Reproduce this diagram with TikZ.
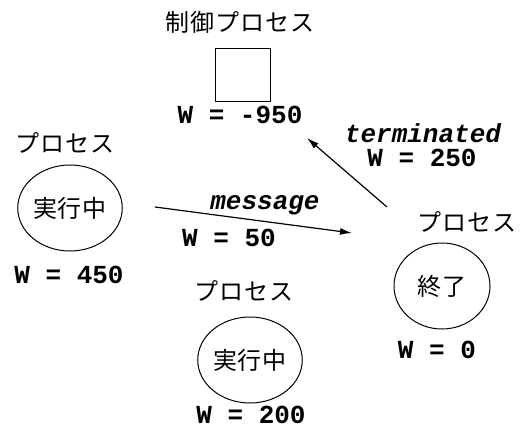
\documentclass[tikz,border=0pt]{standalone}
\usepackage{fontspec}
\setmonofont{Liberation Mono}
\newfontfamily\jpfont[LetterSpace=4]{Noto Sans CJK JP}
\usetikzlibrary{shapes.geometric,arrows.meta}

\tikzset{pnode/.style = {shape = ellipse,
                         color = black,
                         inner sep = 0pt,
                         minimum width = 96pt,
                         minimum height = 86pt,
                         line width = 1pt,
                         font = \jpfont\fontsize{24}{24}\selectfont,
                         draw},
         cnode/.style = {shape = rectangle,
                         inner sep = 0pt,
                         minimum width = 55pt,
                         minimum height = 53pt,
                         line width = 1pt,
                         draw},
         jtext/.style = {inner sep = 0pt,
                         font = \jpfont\fontsize{24}{24}\selectfont},
         wtext/.style = {inner sep = 0pt,
                         font = \ttfamily\bfseries\fontsize{26}{26}\selectfont},
         mtext/.style = {inner sep = 0pt,
                         font = \ttfamily\bfseries\itshape\fontsize{26}{26}\selectfont},
         msg/.style = {line width = 1.2pt,
                       -{Latex[length=12pt,width=7pt]}}}

\begin{document}
\begin{tikzpicture}[x=1pt,y=-1pt]
        \useasboundingbox (0,0) rectangle (523,428);
        % control process
        \node[jtext] (ctlname) at (240,22) {制御プロセス};
        \node[cnode] (ctl) at (242.5,75.5) {};
        \node[wtext] (ctlw) at (240,115) {W = -950};
        % running process (left)
        \node[jtext] (p1name) at (65,143) {プロセス};
        \node[pnode] (p1) at (70,208) {実行中};
        \node[wtext] (p1w) at (69,275) {W = 450};
        % terminated process (right)
        \node[jtext] (p2name) at (467,222) {プロセス};
        \node[pnode] (p2) at (442,286) {終了};
        \node[wtext] (p2w) at (437,350) {W = 0};
        % running process (bottom)
        \node[jtext] (p3name) at (244,291) {プロセス};
        \node[pnode] (p3) at (250,360) {実行中};
        \node[wtext] (p3w) at (251,415) {W = 200};
        % messages
        \coordinate (m1a) at (155,207);
        \coordinate (m1b) at (352,233);
        \coordinate (m2a) at (387,207);
        \coordinate (m2b) at (307,138);
        \path[msg] (m1a) edge (m1b);
        \path[msg] (m2a) edge (m2b);
        \node[mtext] (m1name) at (265,205) {message};
        \node[wtext] (m1w) at (229,238) {W = 50};
        \node[mtext] (m2name) at (423,133) {terminated};
        \node[wtext] (m2w) at (422,158) {W = 250};
\end{tikzpicture}
\end{document}
